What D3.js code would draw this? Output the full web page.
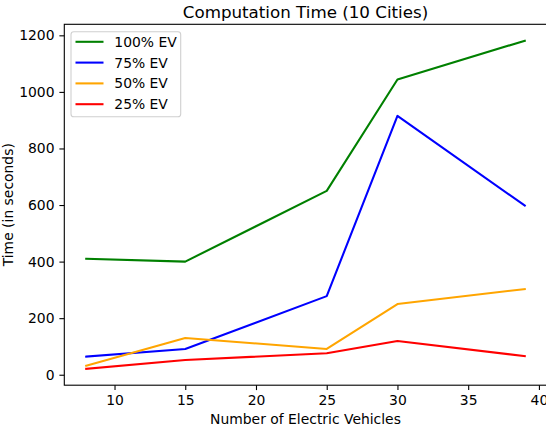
<!DOCTYPE html>
<html>
<head>
<meta charset="utf-8">
<script src="https://cdn.jsdelivr.net/npm/d3@7"></script>
<style>
  body { margin: 0; background: #fff; }
  svg { display: block; font-family: "DejaVu Sans", sans-serif; }
  .axis text { font-size: 13.9px; fill: #000; font-family: "DejaVu Sans", sans-serif; }
  .axis path, .axis line { stroke: #000; stroke-width: 1.1; }
</style>
</head>
<body>
<svg width="546" height="430"></svg>
<script>
var vehicles = [8, 15, 25, 30, 39];
var ev100 = [410, 400, 650, 1044, 1181];
var ev75 = [64, 91, 278, 915, 598];
var ev50 = [32, 130, 91, 250, 303];
var ev25 = [21, 52, 76, 119, 66];
var seriesNames = ["100% EV", "75% EV", "50% EV", "25% EV"];
var seriesColors = ["green", "blue", "orange", "red"];
var xTicks = [10, 15, 20, 25, 30, 35, 40];
var yTicks = [0, 200, 400, 600, 800, 1000, 1200];

var svg = d3.select("svg");
var plotL = 64.3, plotR = 546.7, plotT = 24.3, plotB = 385.2;

var series = [ev100, ev75, ev50, ev25];

// matplotlib style 5% margins
var xmin = d3.min(vehicles), xmax = d3.max(vehicles);
var allY = d3.merge(series);
var ymin = d3.min(allY), ymax = d3.max(allY);
var xm = (xmax - xmin) * 0.05, ym = (ymax - ymin) * 0.05;

var x = d3.scaleLinear()
    .domain([xmin - xm, xmax + xm])
    .range([plotL, plotR]);

var y = d3.scaleLinear()
    .domain([ymin - ym, ymax + ym])
    .range([plotB, plotT]);

var xAxis = d3.axisBottom(x)
    .tickValues(xTicks)
    .tickFormat(d3.format("d"))
    .tickSize(4.9)
    .tickPadding(4.9)
    .tickSizeOuter(0);

var yAxis = d3.axisLeft(y)
    .tickValues(yTicks)
    .tickFormat(d3.format("d"))
    .tickSize(4.9)
    .tickPadding(4.9)
    .tickSizeOuter(0);

var line = d3.line()
    .x(function(d, i) { return x(vehicles[i]); })
    .y(function(d) { return y(d); });

svg.selectAll(".series")
    .data(series)
    .enter().append("path")
    .attr("class", "series")
    .attr("fill", "none")
    .attr("stroke", function(d, i) { return seriesColors[i]; })
    .attr("stroke-width", 2.08)
    .attr("stroke-linejoin", "round")
    .attr("stroke-linecap", "square")
    .attr("d", line);

// frame
svg.append("rect")
    .attr("x", plotL)
    .attr("y", plotT)
    .attr("width", plotR - plotL)
    .attr("height", plotB - plotT)
    .attr("fill", "none")
    .attr("stroke", "#000")
    .attr("stroke-width", 1.1);

svg.append("g")
    .attr("class", "axis")
    .attr("transform", "translate(0," + plotB + ")")
    .call(xAxis)
    .select(".domain").remove();

svg.append("g")
    .attr("class", "axis")
    .attr("transform", "translate(" + plotL + ",0)")
    .call(yAxis)
    .select(".domain").remove();

svg.append("text")
    .attr("x", (plotL + plotR) / 2)
    .attr("y", 17.5)
    .attr("text-anchor", "middle")
    .style("font-size", "16.7px")
    .text("Computation Time (10 Cities)");

svg.append("text")
    .attr("x", (plotL + plotR) / 2)
    .attr("y", 423.5)
    .attr("text-anchor", "middle")
    .style("font-size", "13.9px")
    .text("Number of Electric Vehicles");

svg.append("text")
    .attr("transform", "translate(13," + (plotT + plotB) / 2 + ") rotate(-90)")
    .attr("text-anchor", "middle")
    .style("font-size", "13.9px")
    .text("Time (in seconds)");

// legend
var legend = svg.append("g");
legend.append("rect")
    .attr("x", 71)
    .attr("y", 31.7)
    .attr("width", 109.7)
    .attr("height", 85)
    .attr("rx", 2.8)
    .attr("fill", "#fff")
    .attr("fill-opacity", 0.8)
    .attr("stroke", "#d0d0d0")
    .attr("stroke-width", 1.1);

var rows = legend.selectAll(".row")
    .data(seriesNames)
    .enter().append("g")
    .attr("class", "row")
    .attr("transform", function(d, i) { return "translate(0," + (41.8 + i * 20.8) + ")"; });

rows.append("line")
    .attr("x1", 75.5)
    .attr("x2", 103.5)
    .attr("stroke", function(d, i) { return seriesColors[i]; })
    .attr("stroke-width", 2.08);

rows.append("text")
    .attr("x", 114.3)
    .attr("dy", "0.36em")
    .style("font-size", "13.9px")
    .text(function(d) { return d; });
</script>
</body>
</html>
